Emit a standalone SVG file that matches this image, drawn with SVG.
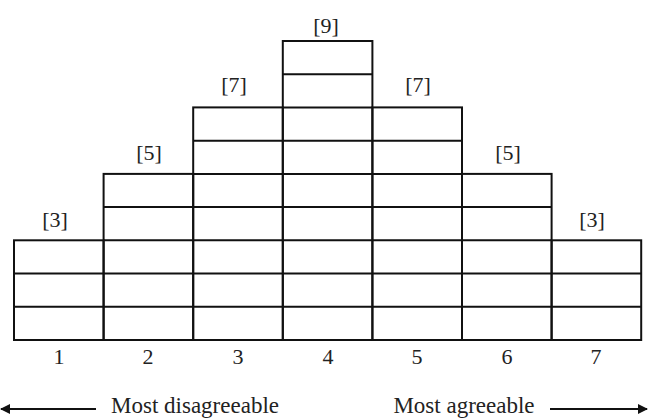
<svg xmlns="http://www.w3.org/2000/svg" width="648" height="418" viewBox="0 0 648 418">
<style>
.g{fill:none;stroke:#111;stroke-width:2}
.t{font-family:"Liberation Serif","Times New Roman",serif;font-size:22px;fill:#222;text-anchor:middle}
.b{font-size:23px}
.a{stroke:#111;stroke-width:2}
</style>
<defs>
<marker id="ah" markerWidth="10" markerHeight="10" refX="9" refY="5" orient="auto" markerUnits="userSpaceOnUse">
<path d="M0,0 L10,5 L0,10 Z" fill="#111"/>
</marker>
</defs>
<rect width="648" height="418" fill="#fff"/>
<g id="col1">
<rect class="g" x="14" y="240.3" width="89.6" height="99.7"/>
<path class="g" d="M14,273.6H103.6M14,306.8H103.6"/>
<text class="t" x="55" y="227">[3]</text>
<text class="t" x="59" y="364">1</text>
</g>
<g id="col2">
<rect class="g" x="103.6" y="173.9" width="89.6" height="166.1"/>
<path class="g" d="M103.6,207.1H193.2M103.6,240.3H193.2M103.6,273.6H193.2M103.6,306.8H193.2"/>
<text class="t" x="149" y="160">[5]</text>
<text class="t" x="148" y="364">2</text>
</g>
<g id="col3">
<rect class="g" x="193.2" y="107.4" width="89.6" height="232.6"/>
<path class="g" d="M193.2,140.7H282.8M193.2,173.9H282.8M193.2,207.1H282.8M193.2,240.3H282.8M193.2,273.6H282.8M193.2,306.8H282.8"/>
<text class="t" x="234" y="92">[7]</text>
<text class="t" x="238" y="364">3</text>
</g>
<g id="col4">
<rect class="g" x="282.8" y="41" width="89.6" height="299"/>
<path class="g" d="M282.8,74.2H372.4M282.8,107.4H372.4M282.8,140.7H372.4M282.8,173.9H372.4M282.8,207.1H372.4M282.8,240.3H372.4M282.8,273.6H372.4M282.8,306.8H372.4"/>
<text class="t" x="326" y="33">[9]</text>
<text class="t" x="328" y="364">4</text>
</g>
<g id="col5">
<rect class="g" x="372.4" y="107.4" width="89.6" height="232.6"/>
<path class="g" d="M372.4,140.7H462M372.4,173.9H462M372.4,207.1H462M372.4,240.3H462M372.4,273.6H462M372.4,306.8H462"/>
<text class="t" x="418" y="92">[7]</text>
<text class="t" x="417" y="364">5</text>
</g>
<g id="col6">
<rect class="g" x="462" y="173.9" width="89.6" height="166.1"/>
<path class="g" d="M462,207.1H551.6M462,240.3H551.6M462,273.6H551.6M462,306.8H551.6"/>
<text class="t" x="508" y="160">[5]</text>
<text class="t" x="507" y="364">6</text>
</g>
<g id="col7">
<rect class="g" x="551.6" y="240.3" width="89.6" height="99.7"/>
<path class="g" d="M551.6,273.6H641.2M551.6,306.8H641.2"/>
<text class="t" x="592" y="227">[3]</text>
<text class="t" x="596" y="364">7</text>
</g>
<g id="connectors">
<line class="a" x1="96" y1="409" x2="1" y2="409" marker-end="url(#ah)"/>
<line class="a" x1="550" y1="409" x2="647" y2="409" marker-end="url(#ah)"/>
</g>
<g id="labels">
<text class="t b" x="195" y="413">Most disagreeable</text>
<text class="t b" x="464" y="413">Most agreeable</text>
</g>
</svg>
